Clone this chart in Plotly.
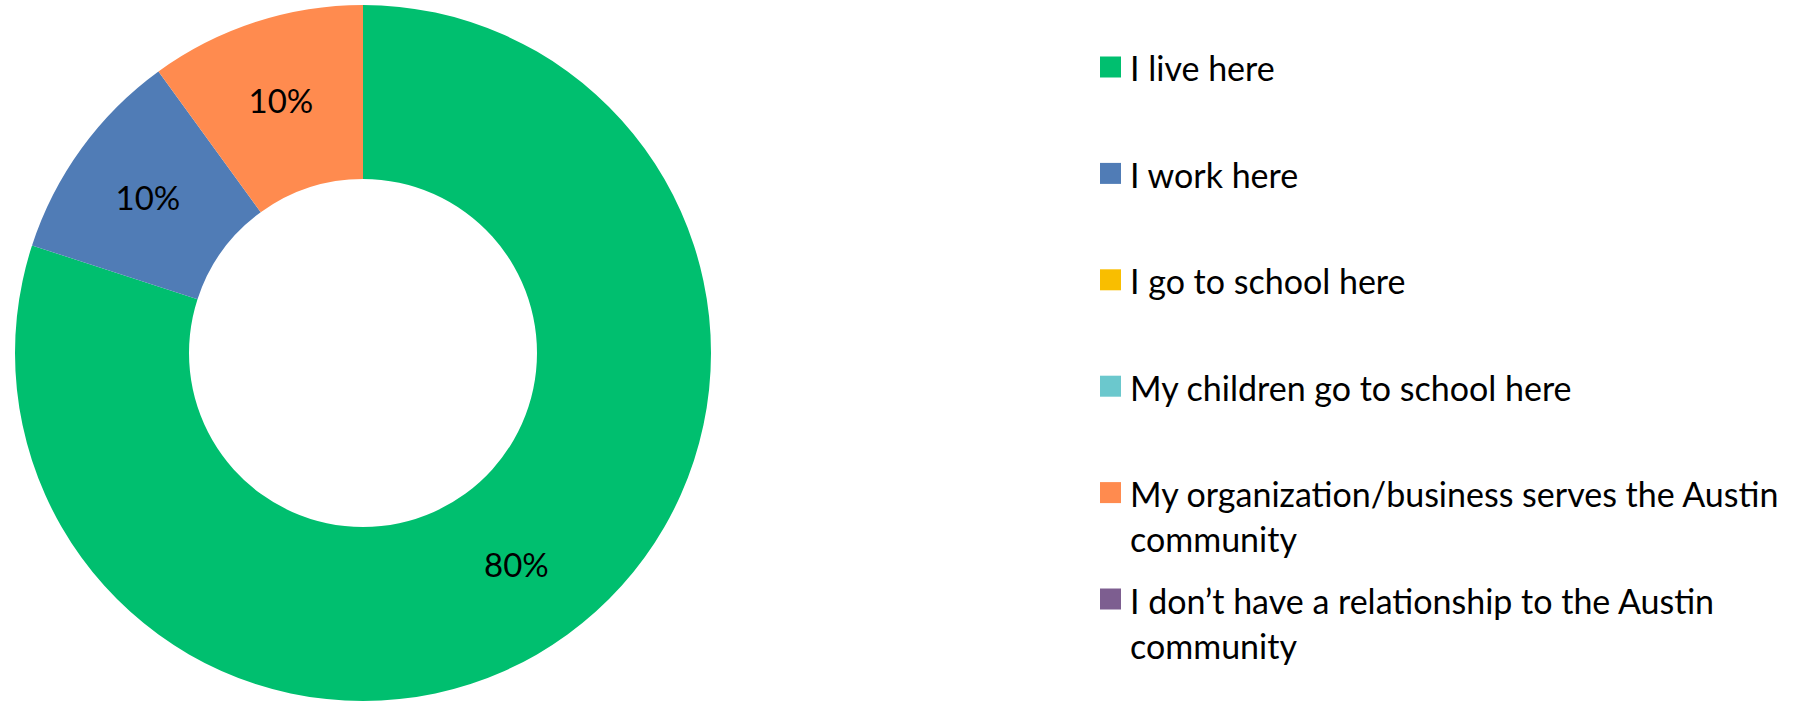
import textwrap
import plotly.graph_objects as go

# Survey answers: relationship to the Austin community
categories = [
    "I live here",
    "I work here",
    "I go to school here",
    "My children go to school here",
    "My organization/business serves the Austin community",
    "I don\u2019t have a relationship to the Austin community",
]
shares = [80, 10, 0, 0, 10, 0]
colors = ["#00BF6F", "#507CB6", "#F9BE00", "#6BC8CD", "#FF8B4F", "#7D5E90"]

W, H = 1816, 702
FONT = "Lato"

# inside labels only for non-empty slices
templates = ["%{percent:.0%}" if v > 0 else "" for v in shares]

fig = go.Figure(
    go.Pie(
        labels=categories,
        values=shares,
        hole=0.5,
        sort=False,
        direction="clockwise",
        rotation=0,
        marker=dict(colors=colors, line=dict(width=0)),
        texttemplate=templates,
        textposition="inside",
        insidetextorientation="horizontal",
        textfont=dict(family=FONT, size=33, color="#000000"),
        domain=dict(x=[15 / W, 711 / W], y=[1 / H, 697 / H]),
        showlegend=False,
        hoverinfo="label+percent",
    )
)

# Legend drawn as swatches with wrapped labels
shapes = []
annotations = []
row0, step, line_gap = 67, 106.4, 45
sw = 21
for i, (name, col) in enumerate(zip(categories, colors)):
    yc = row0 + i * step
    shapes.append(dict(
        type="rect", xref="paper", yref="paper",
        x0=1100 / W, x1=(1100 + sw) / W,
        y0=1 - (yc - sw / 2) / H, y1=1 - (yc + sw / 2) / H,
        fillcolor=col, line=dict(width=0),
    ))
    for j, line in enumerate(textwrap.wrap(name, 42)):
        annotations.append(dict(
            text=line, xref="paper", yref="paper",
            x=1128 / W, y=1 - (yc + 1 + j * line_gap) / H,
            xanchor="left", yanchor="middle", showarrow=False,
            font=dict(family=FONT, size=34, color="#000000"),
        ))

fig.update_layout(
    width=W, height=H,
    margin=dict(l=0, r=0, t=0, b=0),
    paper_bgcolor="white", plot_bgcolor="white",
    shapes=shapes, annotations=annotations,
)

fig.write_html("out.html")
